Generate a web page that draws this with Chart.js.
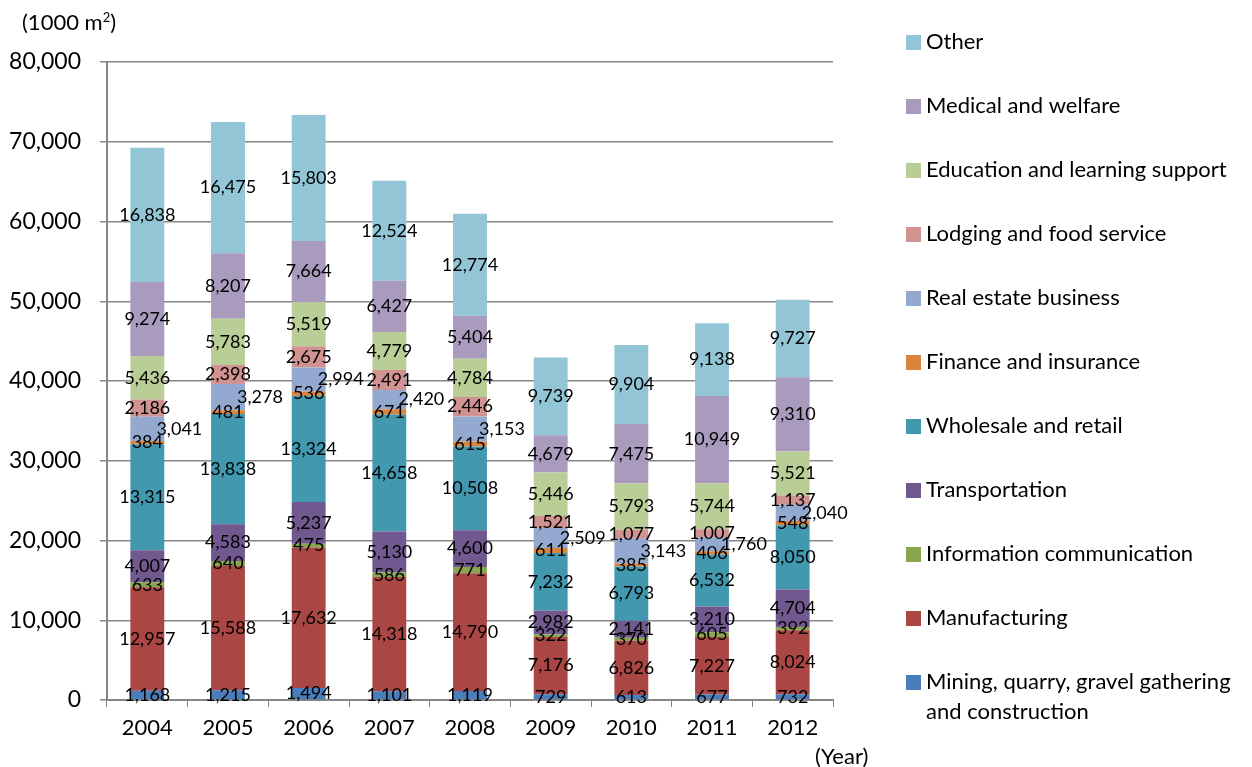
<!DOCTYPE html>
<html>
<head>
<meta charset="utf-8">
<script src="https://cdn.jsdelivr.net/npm/chart.js@4.4.1/dist/chart.umd.min.js"></script>
<style>
  html, body { margin: 0; padding: 0; background: #fff; }
  #wrap { position: relative; width: 1252px; height: 767px; }
  .note { position: absolute; font-family: Lato, sans-serif; color: #000; }
</style>
</head>
<body>
<div id="wrap">
  <canvas id="chart" width="1252" height="767"></canvas>
  <div class="note" style="left:22px; top:8px; font-size:22px;">(1000 m<sup style="font-size:13px;">2</sup>)</div>
  <div class="note" style="left:815px; top:742px; font-size:22px;">(Year)</div>
</div>
<script>
const years = ["2004", "2005", "2006", "2007", "2008", "2009", "2010", "2011", "2012"];

const mining = [1168, 1215, 1494, 1101, 1119, 729, 613, 677, 732];
const manufacturing = [12957, 15588, 17632, 14318, 14790, 7176, 6826, 7227, 8024];
const infoComm = [633, 640, 475, 586, 771, 322, 370, 605, 392];
const transportation = [4007, 4583, 5237, 5130, 4600, 2982, 2141, 3210, 4704];
const wholesale = [13315, 13838, 13324, 14658, 10508, 7232, 6793, 6532, 8050];
const finance = [384, 481, 536, 671, 615, 611, 385, 406, 548];
const realEstate = [3041, 3278, 2994, 2420, 3153, 2509, 3143, 1760, 2040];
const lodging = [2186, 2398, 2675, 2491, 2446, 1521, 1077, 1007, 1137];
const education = [5436, 5783, 5519, 4779, 4784, 5446, 5793, 5744, 5521];
const medical = [9274, 8207, 7664, 6427, 5404, 4679, 7475, 10949, 9310];
const other = [16838, 16475, 15803, 12524, 12774, 9739, 9904, 9138, 9727];

const yTicks = [0, 10000, 20000, 30000, 40000, 50000, 60000, 70000, 80000];

const series = [
  { label: ["Mining, quarry, gravel gathering", "and construction"], data: mining, color: "#4a7ebb" },
  { label: ["Manufacturing"], data: manufacturing, color: "#aa4643" },
  { label: ["Information communication"], data: infoComm, color: "#89a54e" },
  { label: ["Transportation"], data: transportation, color: "#71588f" },
  { label: ["Wholesale and retail"], data: wholesale, color: "#4198af" },
  { label: ["Finance and insurance"], data: finance, color: "#db843d" },
  { label: ["Real estate business"], data: realEstate, color: "#93a9cf", shift: 32 },
  { label: ["Lodging and food service"], data: lodging, color: "#d19392" },
  { label: ["Education and learning support"], data: education, color: "#b9cd96" },
  { label: ["Medical and welfare"], data: medical, color: "#a99bbd" },
  { label: ["Other"], data: other, color: "#92c5d6" }
];

const FONT = "Lato, 'Open Sans', sans-serif";

// value labels in the middle of each segment
const segmentLabels = {
  id: "segmentLabels",
  afterDatasetsDraw(chart) {
    const ctx = chart.ctx;
    ctx.save();
    ctx.font = "18px " + FONT;
    ctx.fillStyle = "#000";
    ctx.textAlign = "center";
    ctx.textBaseline = "middle";
    chart.data.datasets.forEach((ds, i) => {
      const meta = chart.getDatasetMeta(i);
      const shift = series[i].shift || 0;
      meta.data.forEach((bar, j) => {
        const v = ds.data[j];
        const mid = (bar.y + bar.base) / 2;
        ctx.fillText(v.toLocaleString("en-US"), bar.x + shift, mid);
      });
    });
    ctx.restore();
  }
};

// legend on the right, top item = last series
const sideLegend = {
  id: "sideLegend",
  afterDraw(chart) {
    const ctx = chart.ctx;
    ctx.save();
    ctx.font = "22px " + FONT;
    ctx.textBaseline = "middle";
    ctx.textAlign = "left";
    const n = series.length;
    for (let k = 0; k < n; k++) {
      const s = series[n - 1 - k];
      const y = 42 + k * 64;
      ctx.fillStyle = s.color;
      ctx.fillRect(906, y - 7, 15, 15);
      ctx.fillStyle = "#000";
      s.label.forEach((line, li) => {
        ctx.fillText(line, 926, y + li * 30);
      });
    }
    ctx.restore();
  }
};

new Chart(document.getElementById("chart"), {
  type: "bar",
  data: {
    labels: years,
    datasets: series.map(s => ({
      label: s.label.join(" "),
      data: s.data,
      backgroundColor: s.color,
      borderWidth: 0,
      barPercentage: 0.42,
      categoryPercentage: 1
    }))
  },
  options: {
    responsive: false,
    animation: false,
    layout: { padding: { left: 0, top: 62, right: 419, bottom: 0 } },
    plugins: {
      legend: { display: false },
      tooltip: { enabled: false }
    },
    scales: {
      x: {
        stacked: true,
        afterFit: s => { s.height = 67; },
        grid: { offset: true, drawOnChartArea: false, color: "#868686", tickLength: 7 },
        border: { color: "#868686", width: 2 },
        ticks: { color: "#000", font: { family: FONT, size: 22 }, padding: 8 }
      },
      y: {
        stacked: true,
        min: 0,
        max: 80000,
        afterFit: s => { s.width = 107; },
        afterBuildTicks: s => { s.ticks = yTicks.map(v => ({ value: v })); },
        grid: { color: "#868686", lineWidth: 1.5, tickLength: 7 },
        border: { color: "#868686", width: 2 },
        ticks: {
          color: "#000",
          font: { family: FONT, size: 23 },
          padding: 19,
          callback: v => v.toLocaleString("en-US")
        }
      }
    }
  },
  plugins: [segmentLabels, sideLegend]
});
</script>
</body>
</html>
